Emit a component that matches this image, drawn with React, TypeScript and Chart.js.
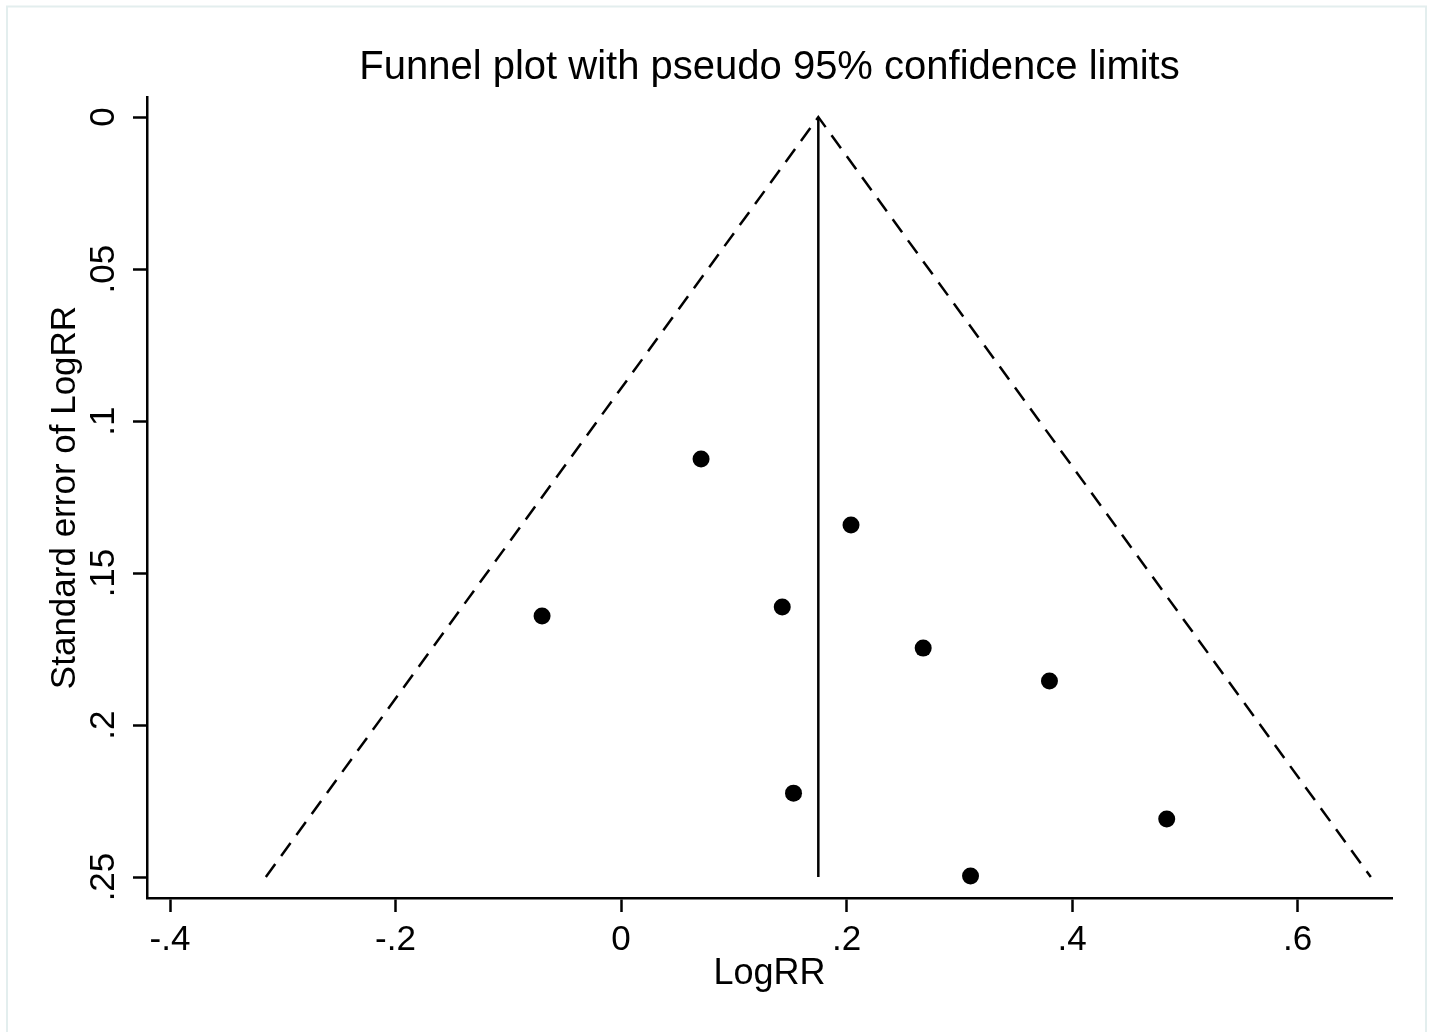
import { useEffect, useRef } from "react";
import { Chart, registerables } from "chart.js";

Chart.register(...registerables);

const TITLE = "Funnel plot with pseudo 95% confidence limits";
const X_TITLE = "LogRR";
const Y_TITLE = "Standard error of LogRR";

// study estimates
const logRR = [0.071, 0.204, -0.07, 0.143, 0.268, 0.38, 0.153, 0.484, 0.31];
const seLogRR = [0.1125, 0.1342, 0.1641, 0.1612, 0.1747, 0.1855, 0.2224, 0.2309, 0.2497];

// pseudo 95% confidence limits (funnel) and pooled estimate line
const funnelX = [-0.315, 0.175, 0.665];
const funnelY = [0.25, 0, 0.25];
const pooledX = [0.175, 0.175];
const pooledY = [0, 0.25];

// axes
const xTickValues = [-0.4, -0.2, 0, 0.2, 0.4, 0.6];
const xTickLabels = ["-.4", "-.2", "0", ".2", ".4", ".6"];
const yTickValues = [0, 0.05, 0.1, 0.15, 0.2, 0.25];
const yTickLabels = ["0", ".05", ".1", ".15", ".2", ".25"];
const xRange = [-0.4204, 0.6838];
const yRange = [-0.0066, 0.2569];

const FONT = "Arial, 'Liberation Sans', sans-serif";

export default function App() {
  const ref = useRef<HTMLCanvasElement | null>(null);

  useEffect(() => {
    document.body.style.margin = "0";
    const canvas = ref.current;
    if (!canvas) return;

    const decor = {
      id: "decor",
      beforeDraw(chart: any) {
        const ctx = chart.ctx;
        ctx.save();
        ctx.fillStyle = "#ffffff";
        ctx.fillRect(0, 0, chart.width, chart.height);
        ctx.strokeStyle = "#e3eeee";
        ctx.lineWidth = 2;
        ctx.beginPath();
        ctx.moveTo(7, 1032);
        ctx.lineTo(7, 6.5);
        ctx.lineTo(1426, 6.5);
        ctx.lineTo(1426, 1032);
        ctx.stroke();
        ctx.restore();
      },
      afterDraw(chart: any) {
        const ctx = chart.ctx;
        const a = chart.chartArea;
        ctx.save();
        ctx.fillStyle = "#000";
        ctx.font = `40px ${FONT}`;
        ctx.textAlign = "center";
        ctx.textBaseline = "middle";
        ctx.fillText(TITLE, (a.left + a.right) / 2, 68);
        ctx.restore();
      },
    };

    const points = logRR.map((x, i) => ({ x, y: seLogRR[i] }));
    const funnel = funnelX.map((x, i) => ({ x, y: funnelY[i] }));
    const pooled = pooledX.map((x, i) => ({ x, y: pooledY[i] }));

    const tickFont = { family: FONT, size: 35 };

    const chart = new Chart(canvas, {
      type: "scatter",
      data: {
        datasets: [
          {
            label: "Studies",
            data: points,
            pointRadius: 8.5,
            pointHoverRadius: 8.5,
            backgroundColor: "#000",
            borderColor: "#000",
            borderWidth: 0,
          },
          {
            label: "Pseudo 95% CI",
            type: "line",
            data: funnel,
            borderColor: "#000",
            borderWidth: 2.5,
            borderDash: [16, 10],
            pointRadius: 0,
            fill: false,
            tension: 0,
          },
          {
            label: "Pooled",
            type: "line",
            data: pooled,
            borderColor: "#000",
            borderWidth: 2.5,
            pointRadius: 0,
            fill: false,
          },
        ],
      },
      options: {
        animation: false,
        responsive: false,
        maintainAspectRatio: false,
        layout: { padding: { left: 0, right: 40, top: 97, bottom: 0 } },
        plugins: {
          legend: { display: false },
          tooltip: { enabled: false },
          title: { display: false },
        },
        scales: {
          x: {
            type: "linear",
            min: xRange[0],
            max: xRange[1],
            afterBuildTicks: (s: any) => {
              s.ticks = xTickValues.map((v) => ({ value: v }));
            },
            afterFit: (s: any) => {
              s.height = 134;
            },
            grid: {
              drawOnChartArea: false,
              drawTicks: true,
              tickLength: 14,
              tickColor: "#000",
              tickWidth: 2.5,
            },
            border: { display: true, color: "#000", width: 2.5 },
            ticks: {
              autoSkip: false,
              maxRotation: 0,
              minRotation: 0,
              color: "#000",
              font: tickFont,
              padding: 7,
              callback: (v: any) => {
                const i = xTickValues.findIndex((t) => Math.abs(t - Number(v)) < 1e-9);
                return i >= 0 ? xTickLabels[i] : "";
              },
            },
            title: {
              display: true,
              text: X_TITLE,
              color: "#000",
              font: { family: FONT, size: 36 },
              padding: { top: 0, bottom: 36 },
            },
          },
          y: {
            type: "linear",
            reverse: true,
            min: yRange[0],
            max: yRange[1],
            afterBuildTicks: (s: any) => {
              s.ticks = yTickValues.map((v) => ({ value: v }));
            },
            afterFit: (s: any) => {
              s.width = 147;
            },
            grid: {
              drawOnChartArea: false,
              drawTicks: true,
              tickLength: 14,
              tickColor: "#000",
              tickWidth: 2.5,
            },
            border: { display: true, color: "#000", width: 2.5 },
            ticks: {
              autoSkip: false,
              minRotation: 90,
              maxRotation: 90,
              crossAlign: "center",
              color: "#000",
              font: tickFont,
              padding: 4,
              callback: (v: any) => {
                const i = yTickValues.findIndex((t) => Math.abs(t - Number(v)) < 1e-9);
                return i >= 0 ? yTickLabels[i] : "";
              },
            },
            title: {
              display: true,
              text: Y_TITLE,
              color: "#000",
              font: { family: FONT, size: 35 },
              padding: { top: 44, bottom: 0 },
            },
          },
        },
      },
      plugins: [decor],
    });

    return () => chart.destroy();
  }, []);

  return <canvas ref={ref} width={1432} height={1032} style={{ display: "block" }} />;
}
